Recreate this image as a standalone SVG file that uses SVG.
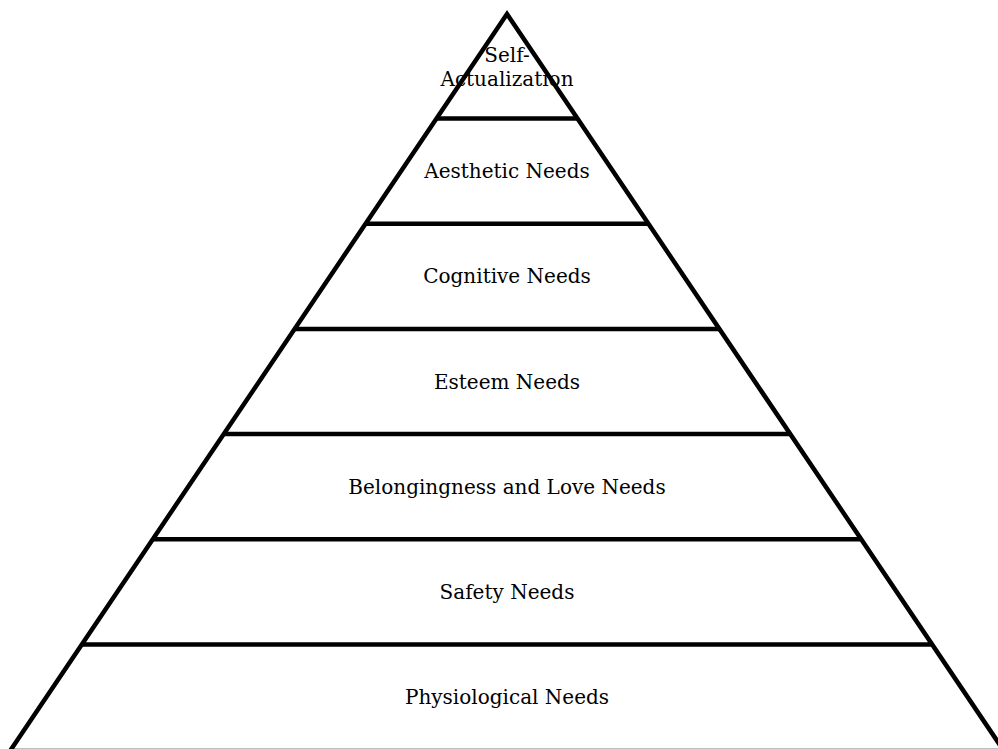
<svg xmlns="http://www.w3.org/2000/svg" width="998" height="749" viewBox="0 0 998 749">
<style>
.edge{fill:none;stroke:#000;stroke-width:4.5;stroke-linejoin:miter}
.lbl{font-family:"DejaVu Serif","Liberation Serif",serif;font-size:20px;fill:#000;text-anchor:middle}
</style>
<rect x="0" y="0" width="998" height="749" fill="#fff"/>
<g id="connectors">
<polygon class="edge" points="507,14 1004,751 10,751"/>
<line class="edge" x1="436.6" y1="118.5" x2="577.4" y2="118.5"/>
<line class="edge" x1="365.8" y1="223.7" x2="648.2" y2="223.7"/>
<line class="edge" x1="294.9" y1="328.9" x2="719.1" y2="328.9"/>
<line class="edge" x1="224.1" y1="434.1" x2="789.9" y2="434.1"/>
<line class="edge" x1="153.2" y1="539.3" x2="860.8" y2="539.3"/>
<line class="edge" x1="82.4" y1="644.5" x2="931.6" y2="644.5"/>
</g>
<g id="self-actualization"><text class="lbl" x="507" y="61.5">Self-</text><text class="lbl" x="507" y="86">Actualization</text></g>
<g id="aesthetic"><text class="lbl" x="507" y="178">Aesthetic Needs</text></g>
<g id="cognitive"><text class="lbl" x="507" y="283">Cognitive Needs</text></g>
<g id="esteem"><text class="lbl" x="507" y="388.5">Esteem Needs</text></g>
<g id="belonging"><text class="lbl" x="507" y="494">Belongingness and Love Needs</text></g>
<g id="safety"><text class="lbl" x="507" y="599">Safety Needs</text></g>
<g id="physiological"><text class="lbl" x="507" y="704">Physiological Needs</text></g>
</svg>
